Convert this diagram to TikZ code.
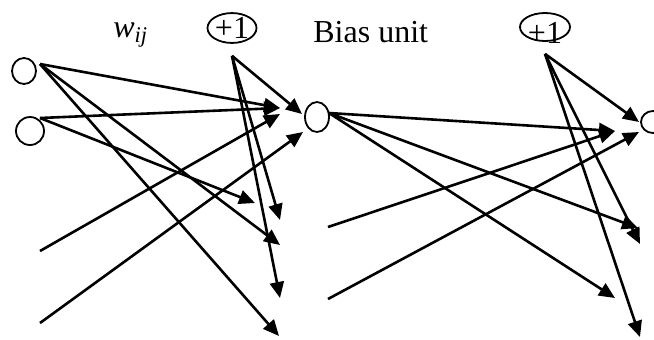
\documentclass[tikz,border=0pt]{standalone}
\usepackage{fontspec}
\setmainfont{Liberation Serif}
\usetikzlibrary{positioning, arrows.meta, shapes.geometric, calc}

\begin{document}
\begin{tikzpicture}[x=0.5pt, y=-0.5pt, >={Triangle[length=8pt, width=7pt]},
    unit/.style={draw, ellipse, line width=0.9pt, inner sep=0pt},
    wire/.style={->, line width=1.3pt},
    lbl/.style={anchor=base west, inner sep=0pt},
    font=\fontsize{16pt}{19pt}\selectfont]
  \useasboundingbox (0,0) rectangle (654,339);
  % units
  \node[unit, minimum width=12pt, minimum height=13pt] (in1) at (24,71) {};
  \node[unit, minimum width=14pt, minimum height=14pt] (in2) at (30,131) {};
  \node[unit, minimum width=12pt, minimum height=15pt] (hid) at (317,117) {};
  \node[unit, minimum width=12pt, minimum height=11pt] (out) at (653,122) {};
  \node[unit, minimum width=24.5pt, minimum height=13pt] (b1) at (232,28) {+1};
  \node[unit, minimum width=25pt, minimum height=14pt,
        label={[yshift=-3pt]center:+1}] (b2) at (545,27) {};
  \node[lbl] (wij) at (113,37) {\textit{w}\textsubscript{\textit{ij}}};
  \node[lbl] (bias) at (313,42) {Bias unit};
  % wire ends
  \coordinate (in1o) at ($(in1)+(16,-7)$);
  \coordinate (in2o) at ($(in2)+(10,-13)$);
  \coordinate (b1o) at ($(b1.south)+(0,12)$);
  \coordinate (b2o) at ($(b2.south)+(0,12)$);
  \coordinate (hido) at ($(hid)+(12,-4)$);
  \coordinate (f1) at (40,251);
  \coordinate (f2) at (40,323);
  \coordinate (g1) at (328,227);
  \coordinate (g2) at (328,299);
  \coordinate (t1) at (280,108);
  \coordinate (t2) at (280,114);
  \coordinate (t3) at (302,114);
  \coordinate (t4) at (303,132);
  \coordinate (t5) at (255,203);
  \coordinate (t6) at (280,220);
  \coordinate (t7) at (280,245);
  \coordinate (t8) at (280,298);
  \coordinate (t9) at (279,336);
  \coordinate (u1) at (615,131);
  \coordinate (u2) at (639,122);
  \coordinate (u3) at (639,132);
  \coordinate (u4) at (638,228);
  \coordinate (u5) at (640,244);
  \coordinate (u6) at (615,298);
  \coordinate (u7) at (640,337);
  % connections
  \foreach \s/\t in {in1o/t1, in2o/t1, f1/t2, b1o/t3, f2/t4, in2o/t5, b1o/t6,
                     in1o/t7, b1o/t8, in1o/t9, hido/u1, g1/u1, b2o/u2, g2/u3,
                     hido/u4, b2o/u5, hido/u6, b2o/u7}
    \draw[wire] (\s) -- (\t);
\end{tikzpicture}
\end{document}
